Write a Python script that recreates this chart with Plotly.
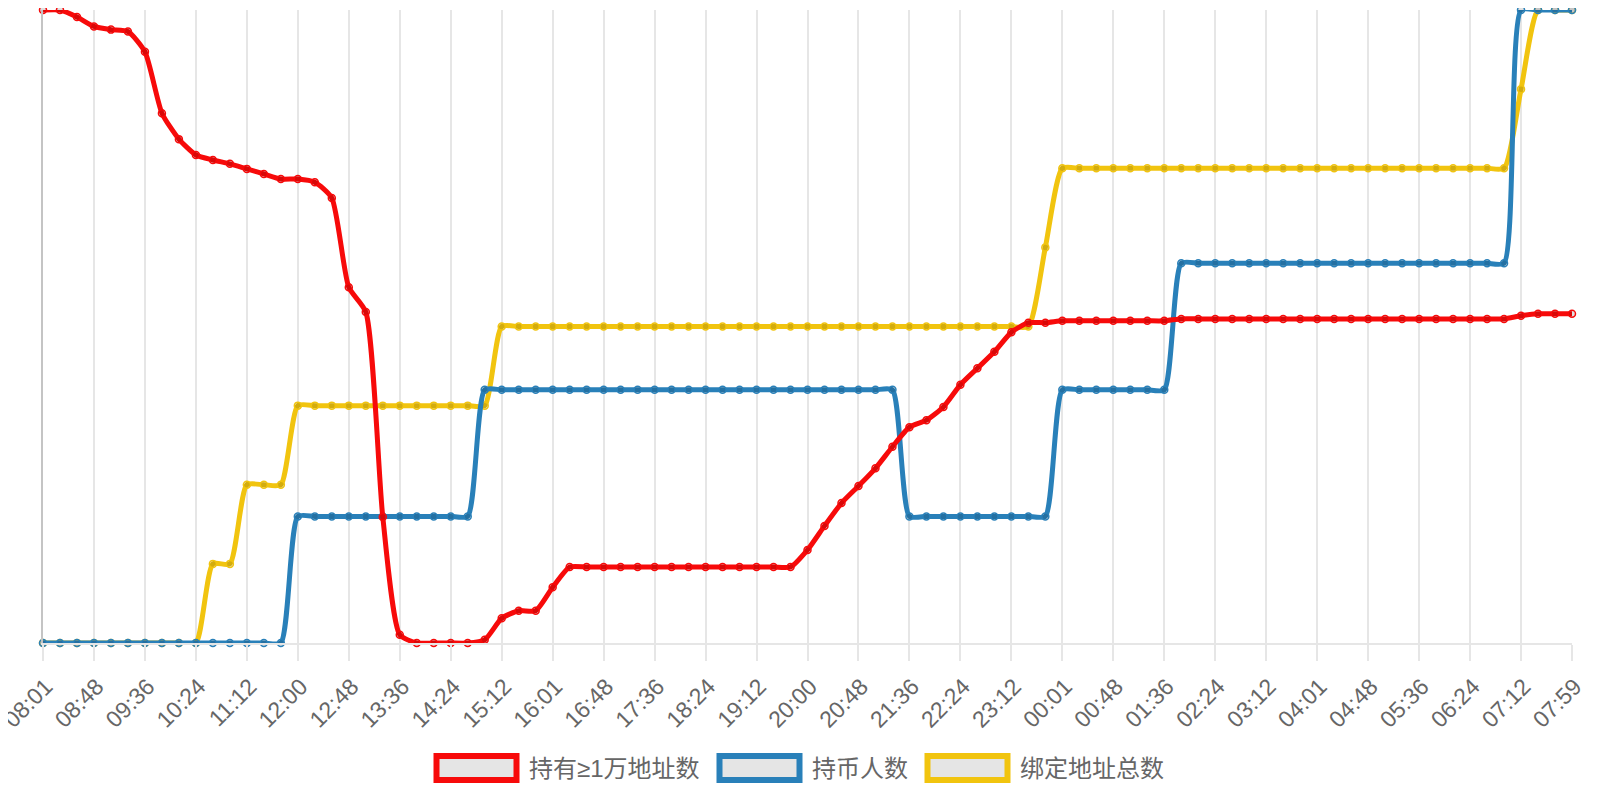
import plotly.graph_objects as go

# ---------------- data ----------------
categories = [
    "08:01", "08:17", "08:33", "08:48", "09:04", "09:20", "09:36", "09:52", "10:08",
    "10:24", "10:40", "10:56", "11:12", "11:28", "11:44", "12:00", "12:16", "12:32",
    "12:48", "13:04", "13:20", "13:36", "13:52", "14:08", "14:24", "14:40", "14:56",
    "15:12", "15:28", "15:44", "16:01", "16:16", "16:32", "16:48", "17:04", "17:20",
    "17:36", "17:52", "18:08", "18:24", "18:40", "18:56", "19:12", "19:28", "19:44",
    "20:00", "20:16", "20:32", "20:48", "21:04", "21:20", "21:36", "21:52", "22:08",
    "22:24", "22:40", "22:56", "23:12", "23:28", "23:44", "00:01", "00:16", "00:32",
    "00:48", "01:04", "01:20", "01:36", "01:52", "02:08", "02:24", "02:40", "02:56",
    "03:12", "03:28", "03:44", "04:01", "04:16", "04:32", "04:48", "05:04", "05:20",
    "05:36", "05:52", "06:08", "06:24", "06:40", "06:56", "07:12", "07:28", "07:44",
    "07:59",
]

tick_labels = [
    "08:01", "08:48", "09:36", "10:24", "11:12", "12:00", "12:48", "13:36", "14:24",
    "15:12", "16:01", "16:48", "17:36", "18:24", "19:12", "20:00", "20:48", "21:36",
    "22:24", "23:12", "00:01", "00:48", "01:36", "02:24", "03:12", "04:01", "04:48",
    "05:36", "06:24", "07:12", "07:59",
]

# 持有≥1万地址数 (relative level)
holders_10k = [
    100, 100, 98.9, 97.4, 96.9, 96.6, 93.4, 83.7, 79.6, 77.1,
    76.3, 75.7, 74.9, 74.1, 73.3, 73.3, 72.8, 70.3, 56.2, 52.3,
    19.9, 1.3, 0, 0, 0, 0, 0.5, 3.9, 5.1, 5.1,
    8.8, 12.0, 12.0, 12.0, 12.0, 12.0, 12.0, 12.0, 12.0, 12.0,
    12.0, 12.0, 12.0, 12.0, 12.0, 14.7, 18.5, 22.1, 24.8, 27.6,
    31.0, 34.1, 35.2, 37.3, 40.8, 43.4, 46.0, 49.1, 50.6, 50.6,
    50.9, 50.9, 50.9, 50.9, 50.9, 50.9, 50.9, 51.2, 51.2, 51.2,
    51.2, 51.2, 51.2, 51.2, 51.2, 51.2, 51.2, 51.2, 51.2, 51.2,
    51.2, 51.2, 51.2, 51.2, 51.2, 51.2, 51.2, 51.7, 52.0, 52.0,
    52.0,
]

# 持币人数
coin_holders = [
    0, 0, 0, 0, 0, 0, 0, 0, 0, 0,
    0, 0, 0, 0, 0, 1, 1, 1, 1, 1,
    1, 1, 1, 1, 1, 1, 2, 2, 2, 2,
    2, 2, 2, 2, 2, 2, 2, 2, 2, 2,
    2, 2, 2, 2, 2, 2, 2, 2, 2, 2,
    2, 1, 1, 1, 1, 1, 1, 1, 1, 1,
    2, 2, 2, 2, 2, 2, 2, 3, 3, 3,
    3, 3, 3, 3, 3, 3, 3, 3, 3, 3,
    3, 3, 3, 3, 3, 3, 3, 5, 5, 5,
    5,
]

# 绑定地址总数
bound_addresses = [
    0, 0, 0, 0, 0, 0, 0, 0, 0, 0,
    1, 1, 2, 2, 2, 3, 3, 3, 3, 3,
    3, 3, 3, 3, 3, 3, 3, 4, 4, 4,
    4, 4, 4, 4, 4, 4, 4, 4, 4, 4,
    4, 4, 4, 4, 4, 4, 4, 4, 4, 4,
    4, 4, 4, 4, 4, 4, 4, 4, 4, 5,
    6, 6, 6, 6, 6, 6, 6, 6, 6, 6,
    6, 6, 6, 6, 6, 6, 6, 6, 6, 6,
    6, 6, 6, 6, 6, 6, 6, 7, 8, 8,
    8,
]

series_names = ["持有≥1万地址数", "持币人数", "绑定地址总数"]
series_colors = ["#f70a0a", "#2980b9", "#f1c40f"]

# ---------------- layout geometry ----------------
# page body has an 8px margin, so the figure is drawn 8px smaller and shifted
OFF = 8
W, H = 1600 - OFF, 800 - OFF
ML, MT = 43 - OFF, 10 - OFF
PW, PH = 1529, 633
MR, MB = W - ML - PW, H - MT - PH
FONT = "Liberation Sans, Noto Sans CJK SC, sans-serif"
GRID = "#e6e6e6"
TXT = "#666666"


def px_x(px):
    # px in page pixels
    return (px - OFF - ML) / PW


def px_y(py):
    return (H - MB - (py - OFF)) / PH


fig = go.Figure()

trace_specs = [
    (bound_addresses, series_colors[2], "y", series_names[2]),
    (coin_holders, series_colors[1], "y2", series_names[1]),
    (holders_10k, series_colors[0], "y3", series_names[0]),
]
for vals, col, yax, name in trace_specs:
    fig.add_trace(go.Scatter(
        x=categories, y=vals, name=name, yaxis=yax,
        mode="lines+markers",
        line=dict(color=col, width=5, shape="spline", smoothing=0.6),
        marker=dict(size=7, color="rgba(0,0,0,0.12)", line=dict(color=col, width=1.5)),
        cliponaxis=False, hoverinfo="skip", showlegend=False,
    ))

# custom legend (Chart.js style boxes)
legend_text_w = [171, 96, 144]
box_w, box_h, gap_txt, gap_item = 80, 24, 12, 20
total = sum(box_w + gap_txt + t for t in legend_text_w) + gap_item * (len(legend_text_w) - 1)
x = 800 - total / 2
cy = 768
shapes = []
annotations = []
for name, col, tw in zip(series_names, series_colors, legend_text_w):
    shapes.append(dict(
        type="rect", xref="paper", yref="paper",
        x0=px_x(x), x1=px_x(x + box_w), y0=px_y(cy + box_h / 2), y1=px_y(cy - box_h / 2),
        line=dict(color=col, width=6), fillcolor="rgba(0,0,0,0.1)", layer="above",
    ))
    annotations.append(dict(
        xref="paper", yref="paper", x=px_x(x + box_w + gap_txt - 2), y=px_y(cy),
        xanchor="left", yanchor="middle", showarrow=False, text=name,
        font=dict(family=FONT, size=24, color=TXT),
    ))
    x += box_w + gap_txt + tw + gap_item

fig.update_layout(
    width=W, height=H,
    margin=dict(l=ML, r=MR, t=MT, b=MB, pad=0),
    paper_bgcolor="white", plot_bgcolor="white",
    showlegend=False,
    font=dict(family=FONT, color=TXT),
    shapes=shapes, annotations=annotations,
    xaxis=dict(
        type="category", range=[0, len(categories) - 1],
        tickmode="array", tickvals=tick_labels, ticktext=tick_labels,
        tickangle=-45, tickfont=dict(family=FONT, size=23, color=TXT),
        ticklabelshift=3, ticklabelstandoff=3,
        showgrid=True, gridcolor=GRID, gridwidth=2,
        ticks="outside", ticklen=16, tickcolor=GRID, tickwidth=2,
        showline=True, linecolor=GRID, linewidth=2,
        zeroline=False, automargin=False,
    ),
    yaxis=dict(
        range=[min(bound_addresses), max(bound_addresses)],
        showline=True, linecolor="#c4c4c4", linewidth=2,
        showticklabels=False, ticks="", showgrid=False, zeroline=False,
        automargin=False, fixedrange=True,
    ),
    yaxis2=dict(
        range=[min(coin_holders), max(coin_holders)], overlaying="y",
        visible=False, showgrid=False, zeroline=False,
    ),
    yaxis3=dict(
        range=[min(holders_10k), max(holders_10k)], overlaying="y",
        visible=False, showgrid=False, zeroline=False,
    ),
)

fig.write_html("out.html")
